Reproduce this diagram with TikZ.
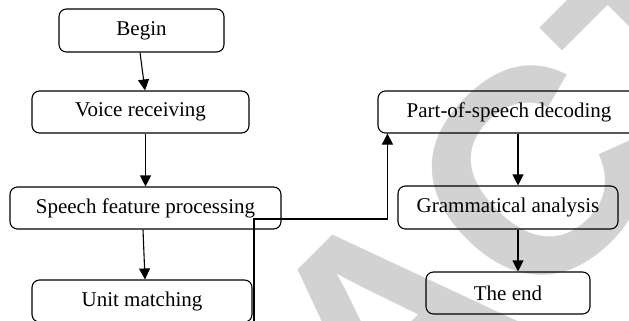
\documentclass[tikz,border=0pt]{standalone}
\usepackage{fontspec}
\setmainfont{Liberation Serif}
\newfontfamily\wmfont{Liberation Sans}
\usetikzlibrary{arrows.meta,calc}
\begin{document}
\begin{tikzpicture}[x=1pt,y=-1pt,
  stage/.style={draw, line width=1.1pt, rounded corners=7.5pt, inner sep=0pt,
    font=\fontsize{21}{24}\selectfont},
  flow/.style={line width=1.1pt, -{Triangle[length=11pt,width=11pt]}},
  stamp/.style={anchor=base west, rotate=45, inner sep=0pt, text=gray!35,
    font=\wmfont\bfseries\fontsize{290}{290}\selectfont}]
\useasboundingbox (0,0) rectangle (629,321);

% background stamp
\begin{scope}
  \clip (0,0) rectangle (629,321);
  \node[stamp] (mark) at (-176,1026) {RETRACTED};
\end{scope}

% left column
\node[stage, minimum width=165pt, minimum height=43pt] (begin) at (141.5,30.5) {Begin};
\node[stage, minimum width=217pt, minimum height=42pt] (voice) at (140.5,112) {Voice receiving};
\node[stage, minimum width=271pt, minimum height=42pt] (speech) at (145.5,208) {Speech feature processing};
\node[stage, minimum width=220pt, minimum height=42pt] (unit) at (142,301) {Unit matching};

% right column
\node[stage, minimum width=262pt, minimum height=42pt] (pos) at (509,112) {Part-of-speech decoding};
\node[stage, minimum width=220pt, minimum height=43pt] (gram) at (508,207.5) {Grammatical analysis};
\node[stage, minimum width=164pt, minimum height=42pt] (end) at (508,293) {The end};

% connectors
\draw[flow] ($(begin.south)+(-1.5,0)$) -- ($(voice.north)+(4.5,0)$);
\draw[flow] (voice.south -| speech.north) -- (speech.north);
\draw[flow] ($(speech.south)+(-2.5,0)$) -- ($(unit.north)+(3,0)$);

\coordinate (feed) at (254,330);
\coordinate (turn) at (254,219);
\draw[flow] (feed) -- (turn) -| ($(pos.south west)+(10,0)$);

\draw[flow] ($(pos.south)+(9,0)$) -- ($(gram.north)+(10,0)$);
\draw[flow] ($(gram.south)+(10,0)$) -- ($(end.north)+(10,0)$);
\end{tikzpicture}
\end{document}
